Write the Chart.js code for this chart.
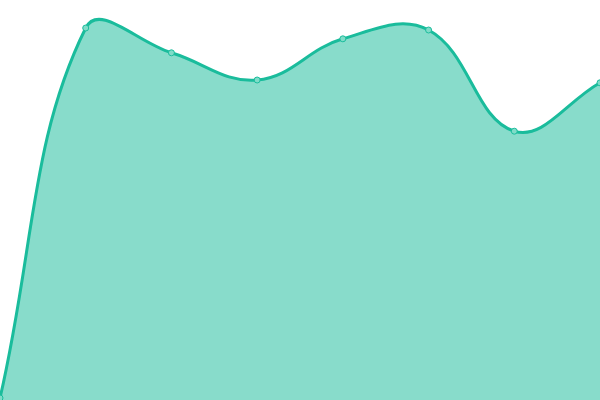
<!DOCTYPE html>
<html>
<head>
<meta charset="utf-8">
<script src="https://cdn.jsdelivr.net/npm/chart.js@4"></script>
<style>
  html, body { margin: 0; padding: 0; background: #fff; overflow: hidden; }
  #wrap { position: absolute; left: 0; top: 0; width: 600px; height: 400px; }
</style>
</head>
<body>
<div id="wrap"><canvas id="myChart"></canvas></div>
<script>
// data
const labels = ["1", "2", "3", "4", "5", "6", "7", "8"];
const values = [0.5, 93, 86.8, 80, 90.3, 92.5, 67.2, 79.3];

const ctx = document.getElementById("myChart").getContext("2d");
const chart = new Chart(ctx, {
  type: "line",
  data: {
    labels: labels,
    datasets: [{
      data: values,
      borderColor: "#1abc9c",
      backgroundColor: "rgba(26, 188, 156, 0.52)",
      pointBackgroundColor: "#7fdcc8",
      pointBorderColor: "#1abc9c",
      pointRadius: 3,
      pointBorderWidth: 1,
      borderWidth: 3,
      tension: 0.4,
      fill: "origin"
    }]
  },
  options: {
    responsive: true,
    maintainAspectRatio: false,
    animation: false,
    layout: { padding: 0 },
    plugins: { legend: { display: false }, tooltip: { enabled: false } },
    scales: {
      x: { display: false, offset: false },
      y: { display: false, min: 0, max: 100 }
    }
  }
});

// chart.js pads the plot area for the end points; push that padding off-screen
// so the plot area fills the whole window like the reference
const a = chart.chartArea;
const padL = a.left, padT = a.top;
const padR = chart.width - a.right, padB = chart.height - a.bottom;
const wrap = document.getElementById("wrap");
wrap.style.left = -padL + "px";
wrap.style.top = -padT + "px";
wrap.style.width = (600 + padL + padR) + "px";
wrap.style.height = (400 + padT + padB) + "px";
chart.resize();
</script>
</body>
</html>
